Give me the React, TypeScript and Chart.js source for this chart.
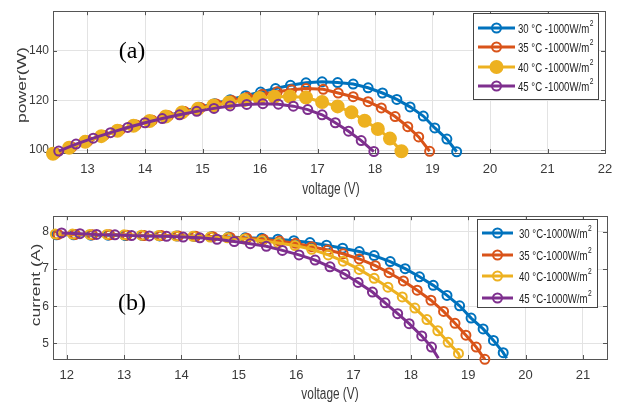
import React, { useEffect, useRef } from 'react';
import { Chart, registerables } from 'chart.js';
Chart.register(...registerables);

const SERIES_COLORS = ['#0072BD', '#D95319', '#EDB120', '#7E2F8E'];
const LEGEND_A = ['30 °C -1000W/m', '35 °C -1000W/m', '40 °C -1000W/m', '45 °C -1000W/m'];
const LEGEND_B = ['30 °C-1000W/m', '35 °C-1000W/m', '40 °C-1000W/m', '45 °C-1000W/m'];

const X_TICKS_A = [13, 14, 15, 16, 17, 18, 19, 20, 21, 22];
const Y_TICKS_A = [100, 120, 140];
const X_TICKS_B = [12, 13, 14, 15, 16, 17, 18, 19, 20, 21];
const Y_TICKS_B = [5, 6, 7, 8];

// (a) power vs voltage
const pvVolt30 = [12.42, 12.7, 12.98, 13.26, 13.54, 13.82, 14.1, 14.38, 14.66, 14.94, 15.21, 15.48, 15.75, 16.01, 16.27, 16.53, 16.8, 17.08, 17.35, 17.62, 17.88, 18.13, 18.38, 18.61, 18.84, 19.04, 19.25, 19.42];
const pvPow30 = [98.6, 101.0, 103.4, 105.7, 107.9, 110.0, 111.9, 113.8, 115.6, 117.3, 118.7, 120.3, 121.9, 123.4, 124.8, 126.1, 127.1, 127.5, 127.2, 126.6, 125.1, 123.0, 120.4, 117.4, 113.7, 108.9, 104.4, 99.3];
const pvVolt35 = [12.45, 12.73, 13.01, 13.29, 13.57, 13.85, 14.13, 14.41, 14.69, 14.97, 15.24, 15.51, 15.78, 16.04, 16.3, 16.55, 16.8, 17.1, 17.36, 17.62, 17.88, 18.11, 18.35, 18.57, 18.76, 18.95];
const pvPow35 = [98.8, 101.2, 103.6, 105.9, 108.1, 110.1, 112.0, 113.8, 115.5, 117.1, 118.6, 120.0, 121.3, 122.5, 123.5, 124.3, 124.8, 124.5, 123.0, 121.5, 119.5, 117.0, 113.5, 109.4, 105.3, 99.5];
const pvVolt40 = [12.4, 12.68, 12.96, 13.24, 13.52, 13.8, 14.08, 14.36, 14.64, 14.92, 15.19, 15.46, 15.73, 15.99, 16.25, 16.52, 16.8, 17.08, 17.35, 17.59, 17.82, 18.05, 18.26, 18.46];
const pvPow40 = [98.5, 100.9, 103.3, 105.6, 107.8, 109.8, 111.7, 113.5, 115.1, 116.6, 118.0, 119.2, 120.2, 121.0, 121.5, 121.6, 121.2, 119.4, 117.6, 115.2, 111.8, 108.5, 104.6, 99.5];
const pvVolt45 = [12.5, 12.8, 13.1, 13.4, 13.7, 14.0, 14.3, 14.6, 14.9, 15.2, 15.48, 15.77, 16.05, 16.32, 16.58, 16.83, 17.08, 17.31, 17.54, 17.76, 17.98];
const pvPow45 = [99.6, 102.4, 104.8, 107.0, 109.1, 111.0, 112.7, 114.2, 115.6, 116.8, 117.8, 118.4, 118.7, 118.5, 117.7, 116.3, 114.2, 111.0, 107.6, 103.8, 99.4];

// (b) current vs voltage
const ivVolt30 = [11.82, 12.12, 12.42, 12.72, 13.02, 13.32, 13.62, 13.92, 14.22, 14.52, 14.82, 15.11, 15.4, 15.68, 15.96, 16.24, 16.53, 16.81, 17.1, 17.36, 17.64, 17.9, 18.15, 18.39, 18.63, 18.85, 19.05, 19.26, 19.44, 19.61, 19.67];
const ivCur30 = [7.92, 7.92, 7.91, 7.91, 7.9, 7.9, 7.89, 7.89, 7.88, 7.87, 7.86, 7.84, 7.83, 7.8, 7.76, 7.71, 7.64, 7.56, 7.47, 7.36, 7.2, 7.01, 6.79, 6.56, 6.29, 6.01, 5.68, 5.39, 5.08, 4.75, 4.6];
const ivVolt35 = [11.85, 12.15, 12.45, 12.75, 13.05, 13.35, 13.65, 13.95, 14.25, 14.55, 14.85, 15.14, 15.43, 15.71, 15.99, 16.27, 16.55, 16.82, 17.1, 17.38, 17.62, 17.87, 18.11, 18.35, 18.57, 18.77, 18.96, 19.14, 19.29];
const ivCur35 = [7.93, 7.93, 7.92, 7.92, 7.91, 7.9, 7.9, 7.89, 7.88, 7.87, 7.85, 7.83, 7.8, 7.75, 7.69, 7.6, 7.51, 7.41, 7.27, 7.09, 6.9, 6.68, 6.43, 6.16, 5.86, 5.54, 5.22, 4.9, 4.57];
const ivVolt40 = [11.8, 12.1, 12.4, 12.7, 13.0, 13.3, 13.6, 13.9, 14.2, 14.5, 14.8, 15.1, 15.4, 15.69, 15.98, 16.27, 16.56, 16.82, 17.1, 17.36, 17.6, 17.85, 18.07, 18.28, 18.47, 18.65, 18.83, 18.86];
const ivCur40 = [7.94, 7.94, 7.93, 7.93, 7.92, 7.91, 7.9, 7.89, 7.88, 7.86, 7.84, 7.81, 7.76, 7.7, 7.63, 7.53, 7.38, 7.21, 6.99, 6.75, 6.51, 6.25, 5.95, 5.64, 5.34, 5.03, 4.73, 4.6];
const ivVolt45 = [11.91, 12.23, 12.52, 12.84, 13.13, 13.44, 13.74, 14.03, 14.32, 14.62, 14.92, 15.2, 15.48, 15.76, 16.05, 16.33, 16.59, 16.85, 17.08, 17.33, 17.55, 17.77, 17.97, 18.19, 18.36, 18.48];
const ivCur45 = [7.97, 7.95, 7.93, 7.92, 7.9, 7.89, 7.88, 7.86, 7.84, 7.8, 7.74, 7.68, 7.61, 7.5, 7.38, 7.24, 7.06, 6.86, 6.64, 6.38, 6.09, 5.8, 5.53, 5.2, 4.9, 4.6];

const FONT = "'Liberation Sans', Arial, sans-serif";
const AXIS_COLOR = '#555555';
const GRID_COLOR = '#e3e3e3';
const TEXT_COLOR = '#3a3a3a';
const NARROW = 0.74;

type Panel = {
  top: number;
  height: number;
  xMin: number; xMax: number; yMin: number; yMax: number;
  xTicks: number[]; yTicks: number[];
  volts: number[][]; vals: number[][];
  filled: boolean[];
  hideLast: boolean[];
  legend: string[];
  legendBox: [number, number, number, number];
  legendRows: number[];
  legendLine: [number, number];
  legendTextX: number;
  label: string; labelPos: [number, number];
  yTitle: string; yTitlePos: [number, number];
  xTitlePos: [number, number];
  padding: { left: number; right: number; top: number; bottom: number };
  yAxisW: number; xAxisH: number;
};

function narrowText(ctx: CanvasRenderingContext2D, text: string, x: number, y: number, size: number, align: CanvasTextAlign) {
  ctx.save();
  ctx.translate(x, y);
  ctx.scale(NARROW, 1);
  ctx.font = `${size}px ${FONT}`;
  ctx.textAlign = align;
  ctx.textBaseline = 'middle';
  ctx.fillText(text, 0, 0);
  const w = ctx.measureText(text).width * NARROW;
  ctx.restore();
  return w;
}

function PanelChart({ p }: { p: Panel }) {
  const ref = useRef<HTMLCanvasElement>(null);
  useEffect(() => {
    const canvas = ref.current!;
    const plugin = {
      id: 'matlabBox',
      beforeDatasetsDraw(chart: any) {
        const { ctx, chartArea: a } = chart;
        ctx.save();
        ctx.strokeStyle = AXIS_COLOR;
        ctx.lineWidth = 1;
        ctx.strokeRect(Math.round(a.left) + 0.5, Math.round(a.top) + 0.5, Math.round(a.right - a.left), Math.round(a.bottom - a.top));
        const tl = 4;
        ctx.beginPath();
        for (const v of p.xTicks) {
          const x = Math.round(chart.scales.x.getPixelForValue(v)) + 0.5;
          ctx.moveTo(x, a.bottom); ctx.lineTo(x, a.bottom - tl);
          ctx.moveTo(x, a.top); ctx.lineTo(x, a.top + tl);
        }
        for (const v of p.yTicks) {
          const y = Math.round(chart.scales.y.getPixelForValue(v)) + 0.5;
          ctx.moveTo(a.left, y); ctx.lineTo(a.left + tl, y);
          ctx.moveTo(a.right, y); ctx.lineTo(a.right - tl, y);
        }
        ctx.stroke();
        ctx.restore();
      },
      afterDraw(chart: any) {
        const { ctx } = chart;
        ctx.save();
        // panel label
        ctx.fillStyle = '#000';
        ctx.font = "24px 'Liberation Serif', 'Times New Roman', serif";
        ctx.textAlign = 'center';
        ctx.textBaseline = 'middle';
        ctx.fillText(p.label, p.labelPos[0], p.labelPos[1]);
        // axis titles
        ctx.fillStyle = TEXT_COLOR;
        narrowText(ctx, 'voltage (V)', p.xTitlePos[0], p.xTitlePos[1], 16, 'center');
        ctx.save();
        ctx.translate(p.yTitlePos[0], p.yTitlePos[1]);
        ctx.rotate(-Math.PI / 2);
        ctx.scale(1, NARROW);
        ctx.font = `17.5px ${FONT}`;
        ctx.textAlign = 'center';
        ctx.textBaseline = 'middle';
        ctx.fillText(p.yTitle, 0, 0);
        ctx.restore();
        // legend
        const [bx0, by0, bx1, by1] = p.legendBox;
        ctx.fillStyle = '#ffffff';
        ctx.fillRect(bx0, by0, bx1 - bx0, by1 - by0);
        ctx.strokeStyle = '#444';
        ctx.lineWidth = 1;
        ctx.strokeRect(bx0 + 0.5, by0 + 0.5, bx1 - bx0, by1 - by0);
        p.legend.forEach((txt, i) => {
          const y = p.legendRows[i];
          const c = SERIES_COLORS[i];
          ctx.strokeStyle = c;
          ctx.lineWidth = 3;
          ctx.beginPath();
          ctx.moveTo(p.legendLine[0], y); ctx.lineTo(p.legendLine[1], y);
          ctx.stroke();
          const mx = (p.legendLine[0] + p.legendLine[1]) / 2;
          ctx.beginPath();
          ctx.arc(mx, y, p.filled[i] ? 6 : 4.5, 0, Math.PI * 2);
          if (p.filled[i]) { ctx.fillStyle = c; ctx.fill(); }
          ctx.lineWidth = 2;
          ctx.stroke();
          ctx.fillStyle = '#222';
          const w = narrowText(ctx, txt, p.legendTextX, y + 1, 13, 'left');
          narrowText(ctx, '2', p.legendTextX + w + 0.5, y - 4, 9, 'left');
        });
        ctx.restore();
      },
    };

    const chart = new Chart(canvas, {
      type: 'line',
      data: {
        datasets: p.volts.map((vs, i) => ({
          label: p.legend[i],
          data: vs.map((x, j) => ({ x, y: p.vals[i][j] })),
          borderColor: SERIES_COLORS[i],
          backgroundColor: SERIES_COLORS[i],
          borderWidth: 3,
          pointRadius: (ctx: any) => (p.hideLast[i] && ctx.dataIndex === vs.length - 1 ? 0 : (p.filled[i] ? 6 : 4.5)),
          pointBorderWidth: 2,
          pointBorderColor: SERIES_COLORS[i],
          pointBackgroundColor: p.filled[i] ? SERIES_COLORS[i] : 'rgba(255,255,255,0)',
          tension: 0,
          clip: false as any,
          order: 3 - i,
        })),
      },
      options: {
        animation: false,
        responsive: false,
        maintainAspectRatio: false,
        devicePixelRatio: 1,
        events: [],
        layout: { padding: p.padding },
        plugins: { legend: { display: false }, tooltip: { enabled: false } },
        scales: {
          x: {
            type: 'linear',
            min: p.xMin,
            max: p.xMax,
            afterBuildTicks: (s: any) => { s.ticks = p.xTicks.map((value) => ({ value })); },
            afterFit: (s: any) => { s.height = p.xAxisH; },
            grid: { color: GRID_COLOR, drawTicks: false },
            border: { color: AXIS_COLOR },
            ticks: { font: { family: FONT, size: 13 }, color: TEXT_COLOR, padding: 9, maxRotation: 0, autoSkip: false },
          },
          y: {
            type: 'linear',
            min: p.yMin,
            max: p.yMax,
            afterBuildTicks: (s: any) => { s.ticks = p.yTicks.map((value) => ({ value })); },
            afterFit: (s: any) => { s.width = p.yAxisW; },
            grid: { color: GRID_COLOR, drawTicks: false },
            border: { color: AXIS_COLOR },
            ticks: { font: { family: FONT, size: 12 }, color: TEXT_COLOR, padding: 4, autoSkip: false },
          },
        },
      } as any,
      plugins: [plugin],
    });
    return () => chart.destroy();
  }, [p]);
  return (
    <canvas
      ref={ref}
      width={622}
      height={p.height}
      style={{ position: 'absolute', left: 0, top: p.top, width: 622, height: p.height }}
    />
  );
}

const PANEL_A: Panel = {
  top: 0, height: 205,
  xMin: 12.4, xMax: 22, yMin: 98.8, yMax: 156,
  xTicks: X_TICKS_A, yTicks: Y_TICKS_A,
  volts: [pvVolt30, pvVolt35, pvVolt40, pvVolt45],
  vals: [pvPow30, pvPow35, pvPow40, pvPow45],
  filled: [false, false, true, false],
  hideLast: [false, false, false, false],
  legend: LEGEND_A,
  legendBox: [473, 13, 598, 99],
  legendRows: [28, 47, 67, 86],
  legendLine: [478, 515],
  legendTextX: 518,
  label: '(a)', labelPos: [132, 52],
  yTitle: 'power(W)', yTitlePos: [22, 85],
  xTitlePos: [331, 190],
  padding: { left: 0, right: 17, top: 5, bottom: 0 },
  yAxisW: 53, xAxisH: 52,
};

const PANEL_B: Panel = {
  top: 205, height: 204,
  xMin: 11.76, xMax: 21.42, yMin: 4.58, yMax: 8.42,
  xTicks: X_TICKS_B, yTicks: Y_TICKS_B,
  volts: [ivVolt30, ivVolt35, ivVolt40, ivVolt45],
  vals: [ivCur30, ivCur35, ivCur40, ivCur45],
  filled: [false, false, false, false],
  hideLast: [true, false, true, true],
  legend: LEGEND_B,
  legendBox: [477, 14, 597, 102],
  legendRows: [28, 50, 71, 93],
  legendLine: [482, 513],
  legendTextX: 519,
  label: '(b)', labelPos: [132, 99],
  yTitle: 'current (A)', yTitlePos: [36, 80],
  xTitlePos: [330, 190],
  padding: { left: 0, right: 15, top: 7, bottom: 0 },
  yAxisW: 53, xAxisH: 50,
};

export default function App() {
  return (
    <div style={{ position: 'fixed', left: 0, top: 0, width: 622, height: 409, background: '#fff' }}>
      <PanelChart p={PANEL_A} />
      <PanelChart p={PANEL_B} />
    </div>
  );
}
